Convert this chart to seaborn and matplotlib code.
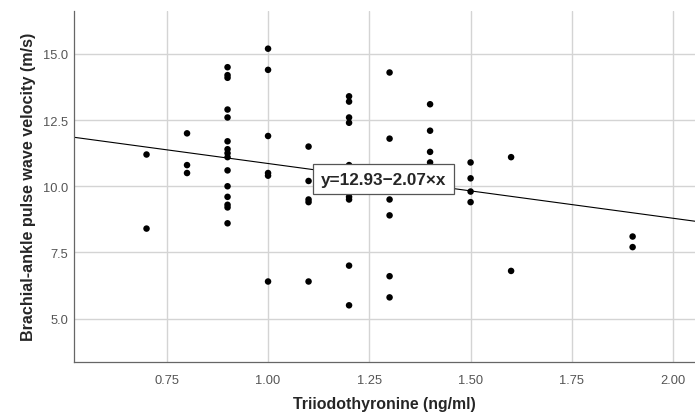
import numpy as np
import matplotlib
matplotlib.use("Agg")
import matplotlib.pyplot as plt
import seaborn as sns

# Triiodothyronine (ng/ml) vs baPWV (m/s)
t3 = [0.70, 0.70,
      0.80, 0.80, 0.80,
      0.90, 0.90, 0.90, 0.90, 0.90, 0.90, 0.90, 0.90, 0.90, 0.90, 0.90, 0.90, 0.90, 0.90, 0.90,
      1.00, 1.00, 1.00, 1.00, 1.00, 1.00,
      1.10, 1.10, 1.10, 1.10, 1.10,
      1.20, 1.20, 1.20, 1.20, 1.20, 1.20, 1.20, 1.20, 1.20,
      1.30, 1.30, 1.30, 1.30, 1.30, 1.30,
      1.40, 1.40, 1.40, 1.40,
      1.50, 1.50, 1.50, 1.50,
      1.60, 1.60,
      1.90, 1.90]
bapwv = [11.2, 8.4,
         12.0, 10.8, 10.5,
         14.5, 14.2, 14.1, 12.9, 12.6, 11.7, 11.4, 11.25, 11.1, 10.6, 10.0, 9.6, 9.3, 9.2, 8.6,
         15.2, 14.4, 11.9, 10.5, 10.4, 6.4,
         11.5, 10.2, 9.5, 9.4, 6.4,
         13.4, 13.2, 12.6, 12.4, 10.8, 9.6, 9.5, 7.0, 5.5,
         14.3, 11.8, 9.5, 8.9, 6.6, 5.8,
         13.1, 12.1, 11.3, 10.9,
         10.9, 10.3, 9.8, 9.4,
         11.1, 6.8,
         8.1, 7.7]

intercept = 12.93
slope = -2.07

x_ticks = [0.75, 1.00, 1.25, 1.50, 1.75, 2.00]
y_ticks = [5.0, 7.5, 10.0, 12.5, 15.0]

sns.set_style("white")
plt.rcParams["font.family"] = ["Liberation Sans", "DejaVu Sans"]

fig = plt.figure(figsize=(6.95, 4.14), dpi=100)
ax = fig.add_axes([0.1065, 0.124, 0.8935, 0.848])

ax.grid(True, color="#d4d4d4", linewidth=1.0)
ax.set_axisbelow(True)

sns.scatterplot(x=t3, y=bapwv, ax=ax, color="black", s=22,
                edgecolor="none", zorder=3)

# fitted line
ax.axline((0, intercept), slope=slope, color="black", linewidth=0.8, zorder=2)

ax.text(1.285, 10.27, "y=12.93\u22122.07\u00d7x", ha="center", va="center",
        fontsize=12.3, fontweight="bold", zorder=4,
        bbox=dict(boxstyle="square,pad=0.45", facecolor="white",
                  edgecolor="#555555", linewidth=0.9))

ax.set_xlim(0.521, 2.054)
ax.set_ylim(3.37, 16.64)
ax.set_xticks(x_ticks)
ax.set_xticklabels([f"{v:.2f}" for v in x_ticks])
ax.set_yticks(y_ticks)
ax.set_yticklabels([f"{v:.1f}" for v in y_ticks])
ax.tick_params(axis="both", length=0, labelsize=9.3, colors="#555555")
ax.tick_params(axis="y", pad=4)
ax.tick_params(axis="x", pad=9)

for side in ["top", "right"]:
    ax.spines[side].set_visible(False)
for side in ["left", "bottom"]:
    ax.spines[side].set_color("#666666")
    ax.spines[side].set_linewidth(0.9)

ax.set_xlabel("Triiodothyronine (ng/ml)", fontsize=11.4, fontweight="bold", labelpad=7)
ax.set_ylabel("Brachial-ankle pulse wave velocity (m/s)", fontsize=11.6,
              fontweight="bold", labelpad=5)

fig.savefig("out.png", dpi=100)
